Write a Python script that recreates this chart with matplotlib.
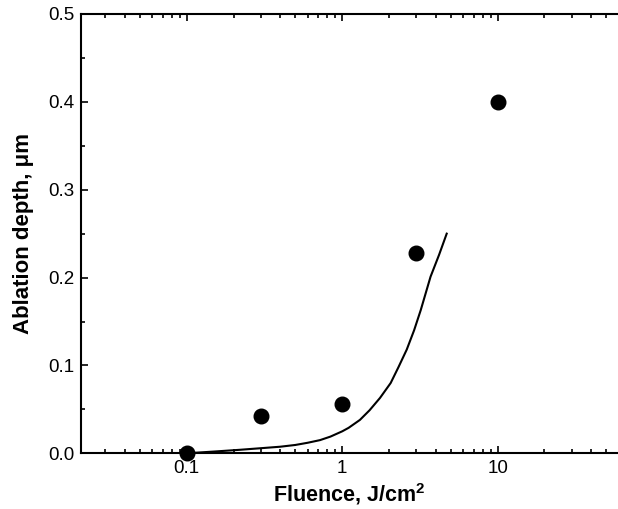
import numpy as np
import matplotlib
matplotlib.use("Agg")
import matplotlib.pyplot as plt
from matplotlib.ticker import MultipleLocator, LogLocator, NullFormatter, FixedLocator, FixedFormatter

# measured points
fluence = [0.1, 0.3, 1.0, 3.0, 10.0]
depth = [0.0, 0.042, 0.056, 0.228, 0.400]

# model curve
curve_x = [0.1, 0.15, 0.22, 0.3, 0.4, 0.5, 0.6, 0.72, 0.84, 1.0, 1.1, 1.3, 1.5, 1.75, 2.05, 2.3, 2.6, 2.9, 3.2, 3.7, 4.2, 4.7]
curve_y = [0.0, 0.002, 0.004, 0.0058, 0.0075, 0.0095, 0.012, 0.015, 0.019, 0.025, 0.029, 0.038, 0.049, 0.063, 0.080, 0.098, 0.118, 0.140, 0.163, 0.201, 0.226, 0.250]

xticks = [0.1, 1, 10]
xticklabels = ["0.1", "1", "10"]

plt.rcParams["font.family"] = ["Liberation Sans", "DejaVu Sans"]
plt.rcParams["mathtext.fontset"] = "custom"
plt.rcParams["mathtext.rm"] = "Liberation Sans"
plt.rcParams["mathtext.bf"] = "Liberation Sans:bold"

fig = plt.figure(figsize=(6.18, 5.09), dpi=100)
ax = fig.add_axes([81 / 618, 55.7 / 509, 1 - 81 / 618, 439.3 / 509])

ax.plot(curve_x, curve_y, color="black", lw=1.5, zorder=2)
ax.plot(fluence, depth, "o", color="black", ms=10.5, zorder=3, clip_on=False)

ax.set_xscale("log")
ax.set_xlim(0.0209, 59.4)
ax.set_ylim(0, 0.5)

ax.xaxis.set_major_locator(FixedLocator(xticks))
ax.xaxis.set_major_formatter(FixedFormatter(xticklabels))
ax.xaxis.set_minor_locator(LogLocator(base=10, subs=np.arange(2, 10)))
ax.xaxis.set_minor_formatter(NullFormatter())
ax.yaxis.set_major_locator(MultipleLocator(0.1))
ax.yaxis.set_minor_locator(MultipleLocator(0.05))
ax.yaxis.set_major_formatter(matplotlib.ticker.FormatStrFormatter("%.1f"))

ax.tick_params(which="both", direction="in", top=True, right=False, labelsize=13.5, width=1.2)
ax.tick_params(which="major", length=5, pad=5)
ax.tick_params(which="minor", length=3)

for side in ["left", "bottom", "top"]:
    ax.spines[side].set_linewidth(1.5)
ax.spines["right"].set_visible(False)

ax.set_xlabel(r"Fluence, J/cm$^\mathbf{2}$", fontsize=15.5, fontweight="bold", labelpad=3)
ax.set_ylabel("Ablation depth, \u03bcm", fontsize=16, fontweight="bold", labelpad=10)

fig.savefig("out.png", dpi=100)
